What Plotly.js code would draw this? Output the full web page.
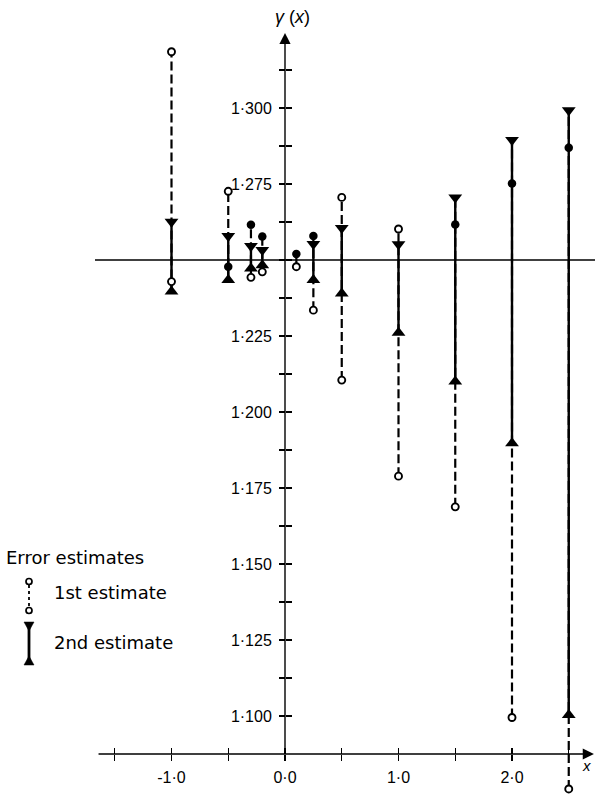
<!DOCTYPE html>
<html><head><meta charset="utf-8">
<script src="https://cdn.plot.ly/plotly-3.0.1.min.js"></script>
<style>html,body{margin:0;padding:0;background:#fff;}#chart{width:595px;height:801px;}</style>
</head><body><div id="chart"></div>
<script>
// ---- data ----
const xs        = [-1.0, -0.5, -0.3, -0.2, 0.1, 0.25, 0.5, 1.0, 1.5, 2.0, 2.5];
const est1Upper = [1.3185, 1.2726, null, null, null, null, 1.2706, 1.2602, null, null, null];
const est1Lower = [1.2429, null, 1.2443, 1.2461, 1.2478, 1.2335, 1.2105, 1.1789, 1.1688, 1.0995, 1.0760];
const est2Upper = [1.2626, 1.2579, 1.2546, 1.2533, null, 1.2553, 1.2605, 1.2552, 1.2706, 1.2895, 1.2993];
const est2Lower = [1.2396, 1.2434, 1.2472, 1.2483, null, 1.2434, 1.2390, 1.2261, 1.2100, 1.1897, 1.1003];
const centreDot = [null, 1.2478, 1.2616, 1.2577, 1.2520, 1.2579, null, null, 1.2617, 1.2752, 1.2869];
const referenceLevel = 1.25;

const yTickVals = [1.1, 1.1125, 1.125, 1.1375, 1.15, 1.1625, 1.175, 1.1875, 1.2, 1.2125, 1.225, 1.2375, 1.25, 1.2625, 1.275, 1.2875, 1.3, 1.3125];
const yTickText = ['1·100','','1·125','','1·150','','1·175','','1·200','','1·225','','','','1·275','','1·300',''];
const xTickVals = [-1.5, -1.0, -0.5, 0.0, 0.5, 1.0, 1.5, 2.0, 2.5];
const xTickText = ['', '-1·0', '', '0·0', '', '1·0', '', '2·0', ''];

// ---- layout geometry ----
const W = 595, H = 801;
const X_RANGE = [-285/113.5, 310/113.5];
const Y_RANGE = [1.1 - 85/3040, 1.1 + 716/3040];
const X_AXIS_AT = 1.0875;
const fx = v => (v - X_RANGE[0]) / (X_RANGE[1] - X_RANGE[0]);
const fy = v => (v - Y_RANGE[0]) / (Y_RANGE[1] - Y_RANGE[0]);
const px = p => p / W;
const py = p => 1 - p / H;

// ---- traces ----
const dashX = [], dashY = [], solidX = [], solidY = [];
xs.forEach((x, i) => {
  const vals = [est1Upper[i], est1Lower[i], est2Upper[i], est2Lower[i], centreDot[i]].filter(v => v !== null);
  dashX.push(x, x, null);
  dashY.push(Math.min(...vals), Math.max(...vals), null);
  if (est2Upper[i] !== null && est2Lower[i] !== null) {
    solidX.push(x, x, null);
    solidY.push(est2Lower[i], est2Upper[i], null);
  }
});
const pick = arr => { const X = [], Y = []; arr.forEach((v, i) => { if (v !== null) { X.push(xs[i]); Y.push(v); } }); return {X, Y}; };
const e1u = pick(est1Upper), e1l = pick(est1Lower), e2u = pick(est2Upper), e2l = pick(est2Lower), cd = pick(centreDot);

const traces = [
  {type:'scatter', mode:'lines', x:dashX, y:dashY, line:{color:'#000', width:2.2, dash:'9px,4px'}, hoverinfo:'skip'},
  {type:'scatter', mode:'lines', x:solidX, y:solidY, line:{color:'#000', width:2.4}, hoverinfo:'skip'},
  {type:'scatter', mode:'markers', x:e1u.X.concat(e1l.X), y:e1u.Y.concat(e1l.Y),
   marker:{symbol:'circle', size:7, color:'#fff', line:{color:'#000', width:1.9}}},
  {type:'scatter', mode:'markers', x:e2u.X, y:e2u.Y, marker:{symbol:'triangle-down', size:12, color:'#000'}},
  {type:'scatter', mode:'markers', x:e2l.X, y:e2l.Y, marker:{symbol:'triangle-up', size:12, color:'#000'}},
  {type:'scatter', mode:'markers', x:cd.X, y:cd.Y, marker:{symbol:'circle', size:8.5, color:'#000'}},
  {type:'scatter', mode:'markers', x:[null], y:[null], xaxis:'x2', yaxis:'y2', hoverinfo:'skip'}
];

const tickFont = {family:'Liberation Sans, Arial, sans-serif', size:16, color:'#000'};
const legFont = {family:'DejaVu Sans, sans-serif', size:18, color:'#000'};
const axCommon = {showgrid:false, zeroline:false, showline:false, automargin:false, fixedrange:true,
  tickmode:'array', ticks:'outside', ticklen:6, tickwidth:1.3, tickcolor:'#000', tickfont:tickFont};

const shapes = [
  {type:'line', xref:'x', yref:'y', x0:-1.674, x1:X_RANGE[1], y0:referenceLevel, y1:referenceLevel, line:{color:'#000', width:1.5}},
  // legend glyph: 1st estimate
  {type:'line', xref:'paper', yref:'paper', x0:px(29), x1:px(29), y0:py(585), y1:py(607), line:{color:'#000', width:1.8, dash:'3px,3px'}},
  {type:'circle', xref:'paper', yref:'paper', x0:px(26), x1:px(32), y0:py(584.5), y1:py(578.5), fillcolor:'#fff', line:{color:'#000', width:1.7}},
  {type:'circle', xref:'paper', yref:'paper', x0:px(26), x1:px(32), y0:py(613.5), y1:py(607.5), fillcolor:'#fff', line:{color:'#000', width:1.7}},
  // legend glyph: 2nd estimate
  {type:'line', xref:'paper', yref:'paper', x0:px(29), x1:px(29), y0:py(625), y1:py(661), line:{color:'#000', width:2.8}},
  {type:'path', xref:'paper', yref:'paper', path:`M ${px(24)} ${py(622)} L ${px(34)} ${py(622)} L ${px(29)} ${py(631)} Z`, fillcolor:'#000', line:{color:'#000', width:0.5}},
  {type:'path', xref:'paper', yref:'paper', path:`M ${px(24)} ${py(665)} L ${px(34)} ${py(665)} L ${px(29)} ${py(656)} Z`, fillcolor:'#000', line:{color:'#000', width:0.5}}
];

const annotations = [
  {x:0, y:1.3247, ax:0, ay:X_AXIS_AT, xref:'x', yref:'y', axref:'x', ayref:'y', text:'', showarrow:true, arrowhead:2, arrowsize:1.6, arrowwidth:1.4, arrowcolor:'#000', standoff:0},
  {x:2.722, y:X_AXIS_AT, ax:-1.656, ay:X_AXIS_AT, xref:'x', yref:'y', axref:'x', ayref:'y', text:'', showarrow:true, arrowhead:2, arrowsize:1.6, arrowwidth:1.4, arrowcolor:'#000', standoff:0},
  {xref:'paper', yref:'paper', x:px(292), y:py(17), xanchor:'center', yanchor:'middle', showarrow:false, text:'<i>γ</i> (<i>x</i>)', font:{family:'Liberation Sans, sans-serif', size:18, color:'#000'}},
  {xref:'paper', yref:'paper', x:px(593), y:py(765), xanchor:'right', yanchor:'middle', showarrow:false, text:'<i>x</i>', font:{family:'Liberation Sans, sans-serif', size:15, color:'#000'}},
  {xref:'paper', yref:'paper', x:px(4), y:py(557), xanchor:'left', yanchor:'middle', showarrow:false, text:'Error estimates', font:legFont},
  {xref:'paper', yref:'paper', x:px(52), y:py(592), xanchor:'left', yanchor:'middle', showarrow:false, text:'1st estimate', font:legFont},
  {xref:'paper', yref:'paper', x:px(52), y:py(642), xanchor:'left', yanchor:'middle', showarrow:false, text:'2nd estimate', font:legFont}
];

const layout = {
  width:W, height:H, margin:{l:0, r:0, t:0, b:0, pad:0},
  paper_bgcolor:'#fff', plot_bgcolor:'#fff', showlegend:false,
  xaxis: Object.assign({}, axCommon, {range:X_RANGE, anchor:'free', position:fy(X_AXIS_AT), side:'bottom', tickvals:xTickVals, ticktext:xTickText, ticklabelstandoff:3}),
  yaxis: Object.assign({}, axCommon, {range:Y_RANGE, anchor:'free', position:fx(0), side:'left', tickvals:yTickVals, ticktext:yTickText, ticklabelstandoff:4}),
  xaxis2: Object.assign({}, axCommon, {range:X_RANGE, overlaying:'x', anchor:'free', position:fy(X_AXIS_AT), side:'top', tickvals:xTickVals, showticklabels:false}),
  yaxis2: Object.assign({}, axCommon, {range:Y_RANGE, overlaying:'y', anchor:'free', position:fx(0), side:'right', tickvals:yTickVals, showticklabels:false}),
  shapes, annotations
};

Plotly.newPlot('chart', traces, layout, {staticPlot:true, displayModeBar:false});
</script></body></html>
